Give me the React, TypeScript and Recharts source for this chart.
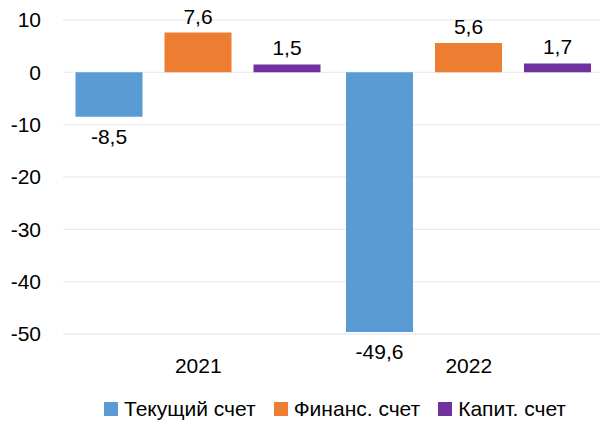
import React from 'react';
import { BarChart, Bar, XAxis, YAxis, CartesianGrid, Legend, LabelList } from 'recharts';

const categories = ['2021', '2022'];
const currentAccount = [-8.5, -49.6];
const financialAccount = [7.6, 5.6];
const capitalAccount = [1.5, 1.7];
const yTicks = [-50, -40, -30, -20, -10, 0, 10];

const seriesNames = ['Текущий счет', 'Финанс. счет', 'Капит. счет'];
const seriesKeys = ['current', 'financial', 'capital'];
const seriesColors = ['#5B9BD5', '#ED7D31', '#7030A0'];

const data = categories.map((c, i) => ({
  name: c,
  current: currentAccount[i],
  financial: financialAccount[i],
  capital: capitalAccount[i],
}));

const FONT = '"Liberation Sans", Arial, sans-serif';
const FS = 21;

const fmt = (v: number) => v.toFixed(1).replace('.', ',');

const ValueLabel = (props: any) => {
  const { x, y, width, height, value } = props;
  const top = Math.min(y, y + height);
  const bottom = Math.max(y, y + height);
  const cx = x + width / 2;
  const ty = value >= 0 ? top - 9 : bottom + 27;
  return (
    <text x={cx} y={ty} textAnchor="middle" fill="#000" fontFamily={FONT} fontSize={FS}>
      {fmt(value)}
    </text>
  );
};

const LegendContent = () => (
  <div
    style={{
      display: 'flex',
      justifyContent: 'center',
      alignItems: 'center',
      height: 24,
      paddingLeft: 66,
      boxSizing: 'border-box',
      fontFamily: FONT,
      fontSize: FS,
      color: '#000',
      lineHeight: '24px',
      whiteSpace: 'nowrap',
    }}
  >
    {seriesNames.map((n, i) => (
      <div key={n} style={{ display: 'flex', alignItems: 'center', marginRight: i < 2 ? 18 : 0 }}>
        <span style={{ display: 'inline-block', width: 14, height: 14, background: seriesColors[i], marginRight: 6 }} />
        <span>{n}</span>
      </div>
    ))}
  </div>
);

export default function App() {
  return (
    <div style={{ position: 'absolute', left: 0, top: 0, width: 600, height: 421, overflow: 'hidden', background: '#fff' }}>
      <BarChart
        width={604}
        height={421}
        data={data}
        margin={{ top: 20, right: 0, bottom: 0, left: 0 }}
        barCategoryGap={12.5}
        barGap={22}
      >
        <CartesianGrid vertical={false} stroke="#ececec" strokeWidth={1.3} />
        <XAxis
          dataKey="name"
          axisLine={false}
          tickLine={false}
          tickSize={0}
          tickMargin={24}
          height={63}
          tick={{ fill: '#000', fontFamily: FONT, fontSize: FS }}
        />
        <YAxis
          domain={[-50, 10]}
          ticks={yTicks}
          axisLine={false}
          tickLine={false}
          tickSize={0}
          tickMargin={22}
          width={63}
          interval={0}
          tick={{ fill: '#000', fontFamily: FONT, fontSize: FS }}
        />
        <Legend verticalAlign="bottom" content={<LegendContent />} />
        {seriesKeys.map((k, i) => (
          <Bar key={k} dataKey={k} name={seriesNames[i]} fill={seriesColors[i]} isAnimationActive={false}>
            <LabelList dataKey={k} content={<ValueLabel />} />
          </Bar>
        ))}
      </BarChart>
    </div>
  );
}
